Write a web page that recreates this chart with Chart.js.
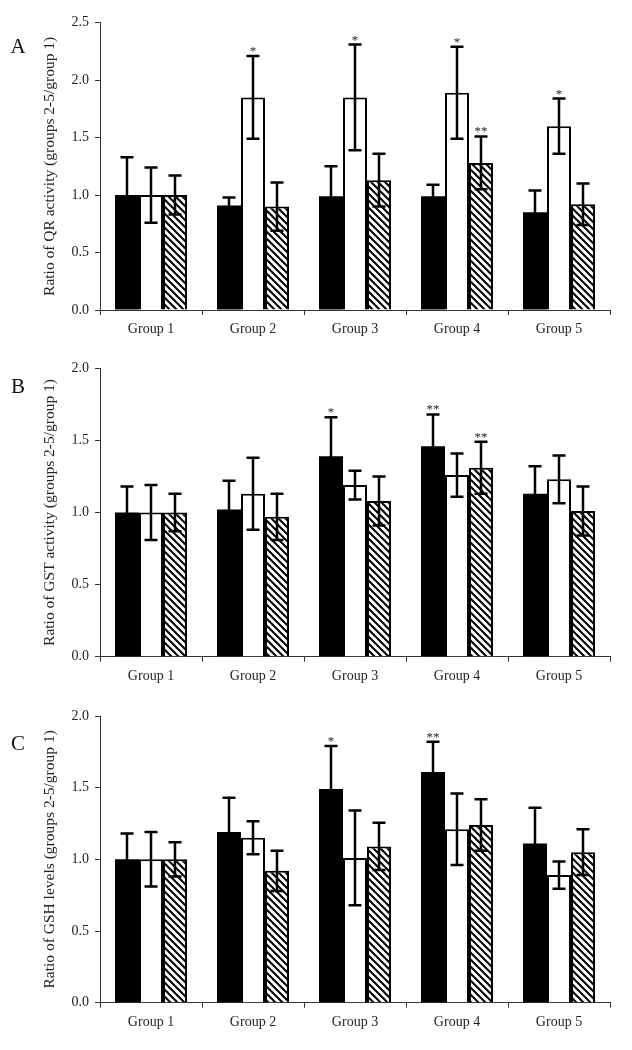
<!DOCTYPE html>
<html>
<head>
<meta charset="utf-8">
<script src="https://cdn.jsdelivr.net/npm/chart.js@4.4.1/dist/chart.umd.min.js"></script>
<style>
  body { margin: 0; background: #fff; }
  #wrap { position: relative; width: 632px; height: 1050px; }
  canvas { position: absolute; left: 0; }
</style>
</head>
<body>
<div id="wrap">
  <canvas id="qr" width="632" height="345" style="top:0px"></canvas>
  <canvas id="gst" width="632" height="347" style="top:345px"></canvas>
  <canvas id="gsh" width="632" height="358" style="top:692px"></canvas>
</div>
<script>
const groups = ["Group 1", "Group 2", "Group 3", "Group 4", "Group 5"];

// panel A - QR activity
const qrBlack = [1.0, 0.91, 0.99, 0.99, 0.85];
const qrBlackErr = [0.33, 0.07, 0.26, 0.10, 0.19];
const qrWhite = [1.0, 1.85, 1.85, 1.89, 1.60];
const qrWhiteErr = [0.24, 0.36, 0.46, 0.40, 0.24];
const qrHatch = [1.0, 0.90, 1.13, 1.28, 0.92];
const qrHatchErr = [0.17, 0.21, 0.23, 0.23, 0.18];
const qrStars = [["", "", ""], ["", "*", ""], ["", "*", ""], ["", "*", "**"], ["", "*", ""]];

// panel B - GST activity
const gstBlack = [1.0, 1.02, 1.39, 1.46, 1.13];
const gstBlackErr = [0.18, 0.20, 0.27, 0.22, 0.19];
const gstWhite = [1.0, 1.13, 1.19, 1.26, 1.23];
const gstWhiteErr = [0.19, 0.25, 0.10, 0.15, 0.165];
const gstHatch = [1.0, 0.97, 1.08, 1.31, 1.01];
const gstHatchErr = [0.13, 0.16, 0.17, 0.18, 0.17];
const gstStars = [["", "", ""], ["", "", ""], ["*", "", ""], ["**", "", "**"], ["", "", ""]];

// panel C - GSH levels
const gshBlack = [1.0, 1.19, 1.49, 1.61, 1.11];
const gshBlackErr = [0.18, 0.24, 0.30, 0.21, 0.25];
const gshWhite = [1.0, 1.15, 1.01, 1.21, 0.89];
const gshWhiteErr = [0.19, 0.115, 0.33, 0.25, 0.095];
const gshHatch = [1.0, 0.92, 1.09, 1.24, 1.05];
const gshHatchErr = [0.12, 0.14, 0.165, 0.18, 0.16];
const gshStars = [["", "", ""], ["", "", ""], ["*", "", ""], ["**", "", ""], ["", "", ""]];

const SERIF = "'Liberation Serif', 'DejaVu Serif', serif";

function makeHatch() {
  const c = document.createElement("canvas");
  c.width = 7; c.height = 7;
  const g = c.getContext("2d");
  g.fillStyle = "#fff";
  g.fillRect(0, 0, 7, 7);
  g.strokeStyle = "#000";
  g.lineWidth = 2;
  g.beginPath();
  g.moveTo(-1, -1); g.lineTo(8, 8);
  g.moveTo(-1, 6); g.lineTo(1, 8);
  g.moveTo(6, -1); g.lineTo(8, 1);
  g.stroke();
  return g.createPattern(c, "repeat");
}
const hatch = makeHatch();

// error bars + significance marks, drawn on top of the bars
const errorBars = {
  id: "errorBars",
  afterDatasetsDraw(chart, args, opts) {
    const ctx = chart.ctx;
    const y = chart.scales.y;
    ctx.save();
    chart.data.datasets.forEach((ds, di) => {
      const meta = chart.getDatasetMeta(di);
      meta.data.forEach((bar, i) => {
        const v = ds.data[i], e = ds.err[i];
        const top = y.getPixelForValue(v + e);
        const bot = y.getPixelForValue(v - e);
        ctx.strokeStyle = "#000";
        ctx.lineWidth = 2.5;
        ctx.beginPath();
        ctx.moveTo(bar.x, top); ctx.lineTo(bar.x, bot);
        ctx.moveTo(bar.x - 6.5, top); ctx.lineTo(bar.x + 6.5, top);
        ctx.moveTo(bar.x - 6.5, bot); ctx.lineTo(bar.x + 6.5, bot);
        ctx.stroke();
        const s = opts.stars[i][di];
        if (s) {
          ctx.fillStyle = "#222";
          ctx.font = "13px " + SERIF;
          ctx.textAlign = "center";
          ctx.textBaseline = "alphabetic";
          ctx.fillText(s, bar.x, top - 1);
        }
      });
    });
    ctx.restore();
  }
};

const panelLetter = {
  id: "panelLetter",
  afterDraw(chart, args, opts) {
    const ctx = chart.ctx;
    ctx.save();
    ctx.fillStyle = "#111";
    ctx.font = "21px " + SERIF;
    ctx.textAlign = "center";
    ctx.textBaseline = "alphabetic";
    ctx.fillText(opts.text, 18, opts.y);
    ctx.restore();
  }
};

// 3 bars of 24px in a 102px category
function barSet(data, err, fill, border) {
  return {
    data, err,
    backgroundColor: fill,
    borderColor: "#000",
    borderWidth: border,
    categoryPercentage: 72 / 102,
    barPercentage: 1.0,
    inflateAmount: 0,
  };
}

function makeChart(id, cfg) {
  const canvas = document.getElementById(id);
  const h = canvas.height;
  return new Chart(canvas, {
    type: "bar",
    data: {
      labels: groups,
      datasets: [
        barSet(cfg.black, cfg.blackErr, "#000", 0),
        barSet(cfg.white, cfg.whiteErr, "#fff", 2),
        barSet(cfg.hatch, cfg.hatchErr, hatch, 2),
      ],
    },
    options: {
      responsive: false,
      animation: false,
      layout: { padding: { left: 37, right: 22, top: cfg.top, bottom: 0 } },
      plugins: {
        legend: { display: false },
        tooltip: { enabled: false },
        errorBars: { stars: cfg.stars },
        panelLetter: { text: cfg.letter, y: cfg.letterY },
      },
      scales: {
        x: {
          grid: { drawOnChartArea: false, drawTicks: true, tickLength: 5, color: "#333" },
          border: { display: true, color: "#333", width: 1 },
          ticks: { color: "#222", font: { family: SERIF, size: 14 }, padding: 6, maxRotation: 0 },
          afterFit(scale) { scale.height = h - cfg.bottom; },
        },
        y: {
          min: 0,
          max: cfg.max,
          grid: { drawOnChartArea: false, drawTicks: true, tickLength: 5, color: "#333" },
          border: { display: true, color: "#333", width: 1 },
          ticks: {
            stepSize: 0.5,
            color: "#222",
            font: { family: SERIF, size: 14 },
            padding: 6,
            callback: (v) => v.toFixed(1),
          },
          title: { display: true, text: cfg.title, color: "#222", font: { family: SERIF, size: 15.5 } },
          afterFit(scale) { scale.width = 63; },
        },
      },
    },
    plugins: [errorBars, panelLetter],
  });
}

makeChart("qr", {
  black: qrBlack, blackErr: qrBlackErr, white: qrWhite, whiteErr: qrWhiteErr,
  hatch: qrHatch, hatchErr: qrHatchErr, stars: qrStars,
  max: 2.5, title: "Ratio of QR activity (groups 2-5/group 1)",
  letter: "A", letterY: 53, top: 22.7, bottom: 310,
});
makeChart("gst", {
  black: gstBlack, blackErr: gstBlackErr, white: gstWhite, whiteErr: gstWhiteErr,
  hatch: gstHatch, hatchErr: gstHatchErr, stars: gstStars,
  max: 2.0, title: "Ratio of GST activity (groups 2-5/group 1)",
  letter: "B", letterY: 48, top: 23.3, bottom: 311.7,
});
makeChart("gsh", {
  black: gshBlack, blackErr: gshBlackErr, white: gshWhite, whiteErr: gshWhiteErr,
  hatch: gshHatch, hatchErr: gshHatchErr, stars: gshStars,
  max: 2.0, title: "Ratio of GSH levels (groups 2-5/group 1)",
  letter: "C", letterY: 58, top: 24, bottom: 310.7,
});
</script>
</body>
</html>
